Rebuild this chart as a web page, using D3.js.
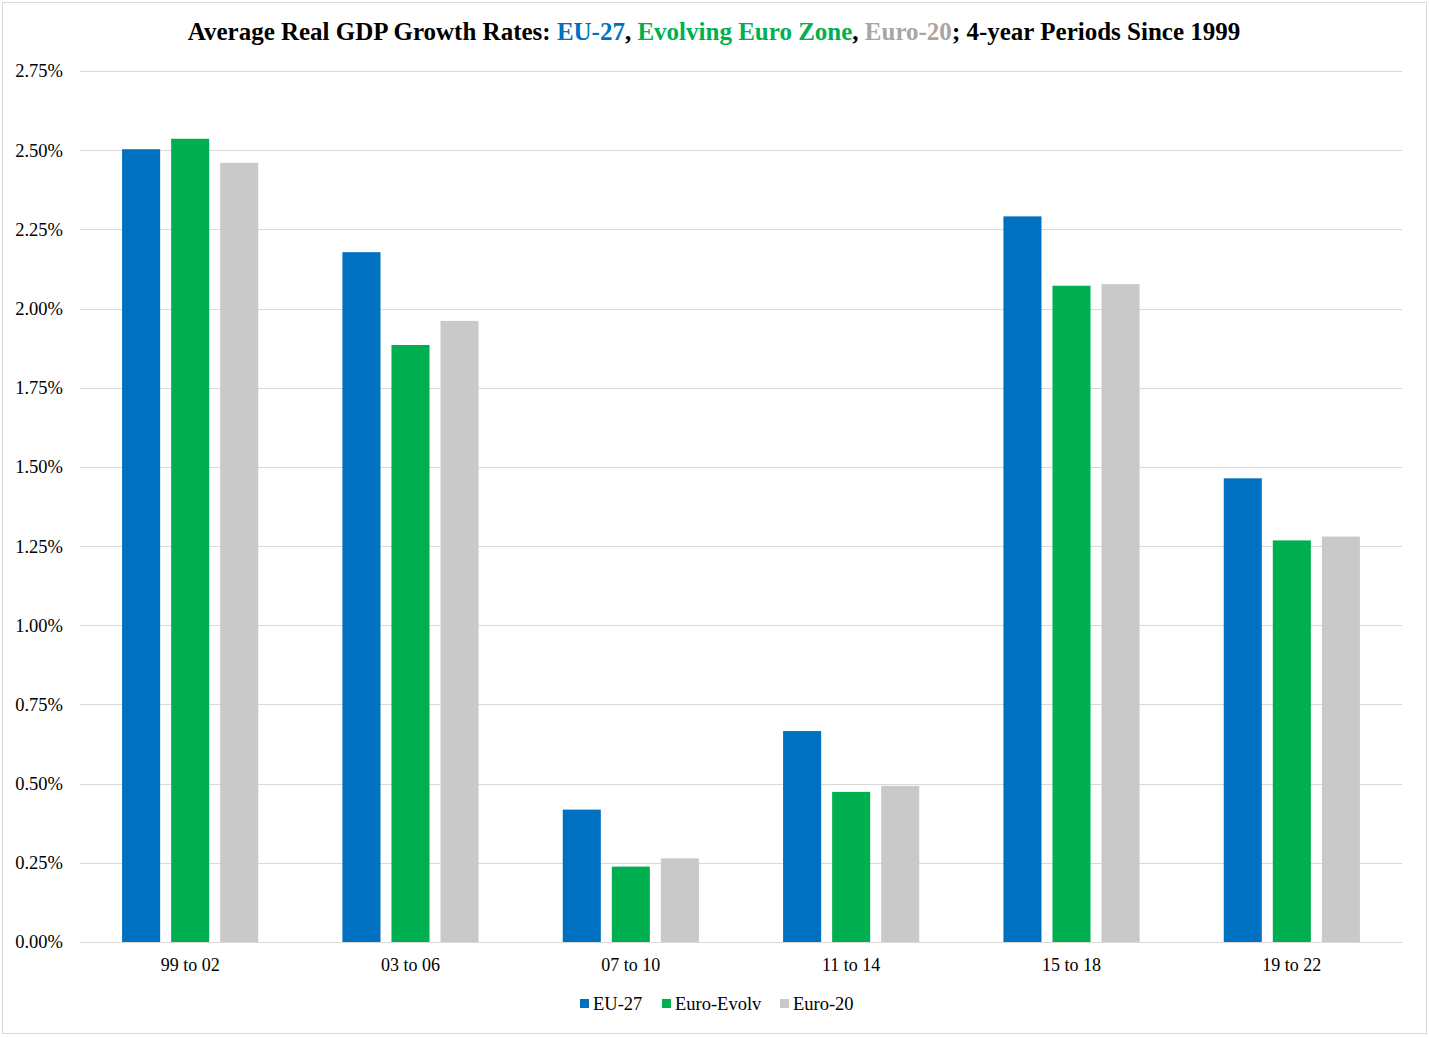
<!DOCTYPE html>
<html><head><meta charset="utf-8">
<script src="https://cdn.jsdelivr.net/npm/d3@7"></script>
<style>body{margin:0;background:#fff;} svg{display:block;}</style>
</head><body>
<script>
const categories = ["99 to 02","03 to 06","07 to 10","11 to 14","15 to 18","19 to 22"];
const seriesNames = ["EU-27","Euro-Evolv","Euro-20"];
const eu27 = [2.503, 2.178, 0.418, 0.666, 2.291, 1.464];
const euroEvolv = [2.536, 1.885, 0.238, 0.474, 2.072, 1.268];
const euro20 = [2.460, 1.961, 0.264, 0.493, 2.077, 1.280];
const yTicks = [0,0.25,0.5,0.75,1,1.25,1.5,1.75,2,2.25,2.5,2.75];
const colors = ["#0070C0","#00B050","#C9C9C9"];
const seriesValues = [eu27, euroEvolv, euro20];

(function(){
const W=1429,H=1037;
const svg=d3.select("body").append("svg").attr("width",W).attr("height",H);
svg.append("rect").attr("x",2.5).attr("y",2.5).attr("width",1424).attr("height",1031).attr("fill","#fff").attr("stroke","#d9d9d9");

const pLeft=80,pRight=1402,pTop=71,pBottom=942;
const y=d3.scaleLinear().domain([0,2.75]).range([pBottom,pTop]);
const x0=d3.scaleBand().domain(categories).range([pLeft,pRight]).paddingInner(0.382).paddingOuter(0.191);
const x1=d3.scaleBand().domain(seriesNames).range([0,x0.bandwidth()]).paddingInner(0.224).paddingOuter(0);

const font="'Liberation Serif','Times New Roman',serif";

svg.append("g").selectAll("line").data(yTicks).join("line")
  .attr("x1",pLeft).attr("x2",pRight).attr("y1",d=>Math.round(y(d))+0.5).attr("y2",d=>Math.round(y(d))+0.5)
  .attr("stroke","#d9d9d9").attr("stroke-width",1);

const yAxis=d3.axisLeft(y).tickValues(yTicks).tickFormat(d=>d.toFixed(2)+"%").tickSize(0).tickPadding(17);
const ya=svg.append("g").attr("transform",`translate(${pLeft},0)`).call(yAxis);
ya.select(".domain").remove();
ya.selectAll("text").attr("font-family",font).attr("font-size",18.5).attr("fill","#000");

const g=svg.append("g");
categories.forEach((c,i)=>{
  seriesNames.forEach((s,j)=>{
    const v=seriesValues[j][i];
    g.append("rect").attr("x",x0(c)+x1(s)).attr("width",x1.bandwidth())
      .attr("y",y(v)).attr("height",y(0)-y(v)).attr("fill",colors[j]);
  });
});

const xAxis=d3.axisBottom(x0).tickSize(0).tickPadding(16);
const xa=svg.append("g").attr("transform",`translate(0,${pBottom})`).call(xAxis);
xa.select(".domain").attr("stroke","#d9d9d9");
xa.selectAll("text").attr("font-family",font).attr("font-size",18).attr("fill","#000");

const t=svg.append("text").attr("x",714).attr("y",40).attr("text-anchor","middle")
  .attr("font-family",font).attr("font-size",25).attr("font-weight","bold").attr("fill","#000");
t.append("tspan").text("Average Real GDP Growth Rates: ");
t.append("tspan").attr("fill","#0070C0").text("EU-27");
t.append("tspan").text(", ");
t.append("tspan").attr("fill","#00B050").text("Evolving Euro Zone");
t.append("tspan").text(", ");
t.append("tspan").attr("fill","#A6A6A6").text("Euro-20");
t.append("tspan").text("; 4-year Periods Since 1999");

const legX=[580,662,780];
seriesNames.forEach((s,j)=>{
  svg.append("rect").attr("x",legX[j]).attr("y",999).attr("width",9).attr("height",9).attr("fill",colors[j]);
  svg.append("text").attr("x",legX[j]+13).attr("y",1010).attr("font-family",font).attr("font-size",18.5).attr("fill","#000").text(s);
});
})();
</script>
</body></html>
